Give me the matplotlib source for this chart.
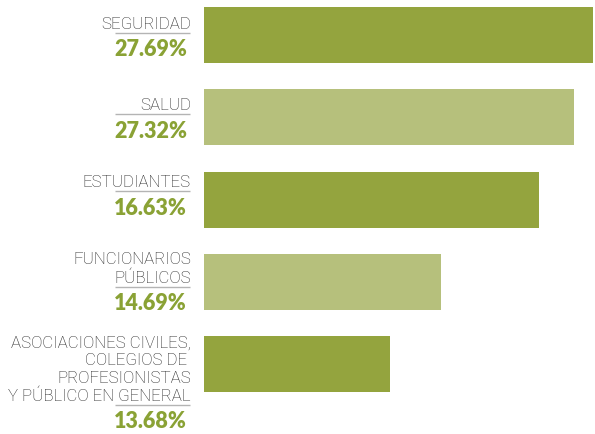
import matplotlib.pyplot as plt

categories = ['SEGURIDAD', 'SALUD', 'ESTUDIANTES', 'FUNCIONARIOS\nPÚBLICOS',
              'ASOCIACIONES CIVILES,\nCOLEGIOS DE \nPROFESIONISTAS\nY PÚBLICO EN GENERAL']
percent_labels = ['27.69%', '27.32%', '16.63%', '14.69%', '13.68%']
# bar lengths as drawn (longest bar = 100)
bar_len = [100, 95.1, 86.1, 60.9, 47.8]

dark = '#94a43e'
light = '#b6c07c'
bar_colors = [dark, light, dark, light, dark]
pct_color = '#8aa235'
label_color = '#262626'

W, H = 595, 435
fig = plt.figure(figsize=(W / 100, H / 100), dpi=100)
ax = fig.add_axes([204 / W, 0, 391 / W, 1])

# 1 px in data units
ux = 100 / 389
pitch = 82.25
uy = 1 / pitch

ys = list(range(len(categories)))
ax.barh(ys, bar_len, height=56 / pitch, color=bar_colors, left=0)
ax.set_xlim(0, 391 * ux)
ax.set_ylim(4 + 70 / pitch, -36 / pitch)
ax.axis('off')

# vertical offset (px) of the underline from the bar centre
line_dy = [-2, -3, -8, 5, 41]

for y, lab, pct, dy in zip(ys, categories, percent_labels, line_dy):
    ly = y + dy * uy
    ax.plot([-89 * ux, -14 * ux], [ly, ly], color='#b4b4b4', lw=1.0,
            clip_on=False, solid_capstyle='butt')
    ax.text(-13 * ux, ly - 2 * uy, lab, ha='right', va='bottom',
            fontsize=12.2, color=label_color, family='Roboto', fontweight='light',
            linespacing=1.22, clip_on=False)
    ax.text(-17 * ux, ly + 16 * uy, pct, ha='right', va='center',
            fontsize=15.5, color=pct_color, family='Lato', fontweight='heavy',
            clip_on=False)

fig.savefig('out.png', dpi=100)
